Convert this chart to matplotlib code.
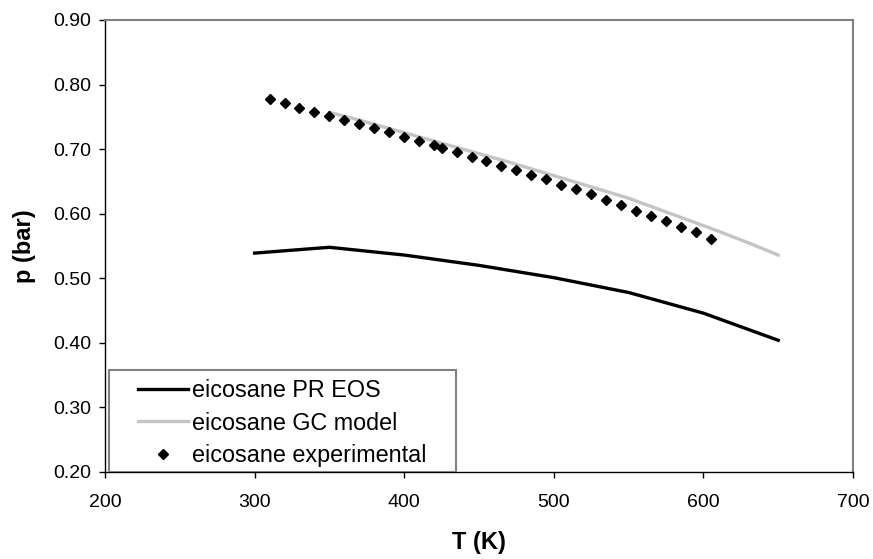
import matplotlib
matplotlib.use("Agg")
import matplotlib.pyplot as plt
from matplotlib.patches import Rectangle
from matplotlib.ticker import FormatStrFormatter

plt.rcParams['font.family'] = ['Liberation Sans', 'DejaVu Sans']

# eicosane PR EOS
T_pr = [300, 350, 400, 450, 500, 550, 600, 650]
p_pr = [0.539, 0.548, 0.536, 0.520, 0.501, 0.478, 0.446, 0.404]

# eicosane GC model
T_gc = [350, 370, 390, 410, 430, 450, 470, 490, 510, 530, 550, 570, 590, 610, 630, 650]
p_gc = [0.757, 0.745, 0.732, 0.719, 0.706, 0.693, 0.680, 0.666, 0.652, 0.638,
        0.624, 0.607, 0.590, 0.573, 0.555, 0.536]

# eicosane experimental
T_exp = [310, 320, 330, 340, 350, 360, 370, 380, 390, 400, 410, 420, 425, 435, 445,
         455, 465, 475, 485, 495, 505, 515, 525, 535, 545, 555, 565, 575, 585, 595, 605]
p_exp = [0.778, 0.771, 0.764, 0.758, 0.752, 0.745, 0.739, 0.732, 0.726, 0.719, 0.713,
         0.706, 0.702, 0.696, 0.688, 0.682, 0.674, 0.667, 0.660, 0.653, 0.645, 0.638,
         0.630, 0.622, 0.613, 0.604, 0.596, 0.589, 0.579, 0.571, 0.561]

fig = plt.figure(figsize=(8.73, 5.59), dpi=100)
ax = fig.add_axes([105/873, 87/559, 748/873, 452/559])

ax.plot(T_pr, p_pr, color='black', lw=2.4, label='eicosane PR EOS', zorder=3)
ax.plot(T_gc, p_gc, color='#c4c4c4', lw=2.4, label='eicosane GC model', zorder=2)
ax.plot(T_exp, p_exp, linestyle='none', marker='D', ms=5.4, color='black',
        label='eicosane experimental', zorder=4)

ax.set_xlim(200, 700)
ax.set_ylim(0.2, 0.9)
ax.set_xticks([200, 300, 400, 500, 600, 700])
ax.set_yticks([0.2, 0.3, 0.4, 0.5, 0.6, 0.7, 0.8, 0.9])
ax.yaxis.set_major_formatter(FormatStrFormatter('%.2f'))
ax.tick_params(direction='out', length=4, width=1, labelsize=14)
ax.tick_params(axis='x', pad=12)
ax.tick_params(axis='y', pad=6)

for s in ['top', 'right']:
    ax.spines[s].set_color('#808080')
    ax.spines[s].set_linewidth(1.5)
for s in ['left', 'bottom']:
    ax.spines[s].set_color('black')
    ax.spines[s].set_linewidth(1)

ax.set_xlabel('T (K)', fontsize=17, fontweight='bold', labelpad=14)
ax.set_ylabel('p (bar)', fontsize=17, fontweight='bold', labelpad=12)

# legend box drawn by hand, like the Excel one
box = Rectangle((4/748, 0), 347/748, 102/452, transform=ax.transAxes,
                facecolor='white', edgecolor='#808080', lw=1.5, zorder=5)
ax.add_patch(box)
leg = ax.legend(loc='center left', bbox_to_anchor=(33/748, 49/452), frameon=False,
                fontsize=16.8, handlelength=2.15, handletextpad=0.17,
                labelspacing=0.42, borderpad=0, borderaxespad=0)
leg.set_zorder(6)

fig.savefig('out.png', dpi=100)
